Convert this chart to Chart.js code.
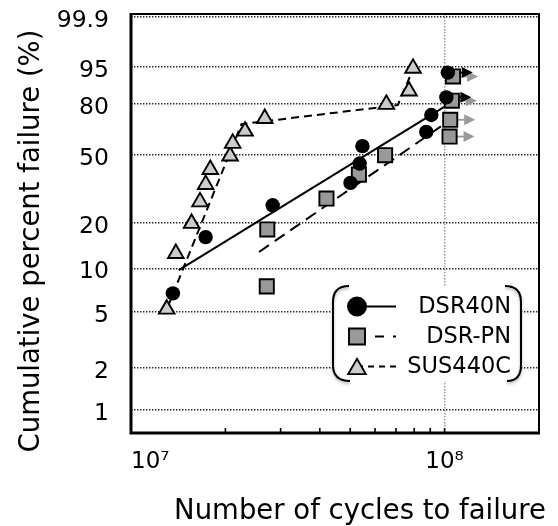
<!DOCTYPE html>
<html>
<head>
<meta charset="utf-8">
<script src="https://cdn.jsdelivr.net/npm/chart.js"></script>
<style>
  html, body { margin: 0; padding: 0; background: #fff; }
</style>
</head>
<body>
<canvas id="chart" width="558" height="526"></canvas>
<script>
// Weibull plot: cycles to failure for three bearing materials

const yTickPct = [1, 2, 5, 10, 20, 50, 80, 95, 99.9];
const yTickLabels = ["1", "2", "5", "10", "20", "50", "80", "95", "99.9"];
const xTickValues = [1e7, 1e8, 2e8];
const xTickLabels = ["10\u2077", "10\u2078", ""];
const xMinorTicks = [2e7, 3e7, 4e7, 5e7, 6e7, 7e7, 8e7, 9e7, 1e8];

const xTitle = "Number of cycles to failure";
const yTitle = "Cumulative percent failure (%)";

const dsr40nCycles = [1.36e7, 1.73e7, 2.83e7, 5.01e7, 5.36e7, 5.47e7, 8.74e7, 9.07e7, 1.013e8, 1.024e8];
const dsr40nFailure = [6.7, 16.2, 25.9, 35.3, 45.1, 55.1, 63.8, 73.9, 83.5, 93.4];
const dsr40nRunouts = [8, 9];

const dsrpnCycles = [2.71e7, 2.72e7, 4.20e7, 5.33e7, 6.46e7, 1.037e8, 1.042e8, 1.055e8, 1.064e8];
const dsrpnFailure = [7.5, 18.2, 28.5, 39.3, 49.8, 60.9, 71.1, 81.8, 92.2];
const dsrpnRunouts = [5, 6, 7, 8];

const sus440cCycles = [1.30e7, 1.39e7, 1.56e7, 1.66e7, 1.73e7, 1.79e7, 2.07e7, 2.11e7, 2.31e7, 2.67e7, 6.52e7, 7.70e7, 7.93e7];
const sus440cFailure = [5.2, 12.6, 19.9, 27.2, 34.5, 41.9, 49.3, 56.8, 64.2, 71.9, 79.9, 86.5, 94.6];

// fitted lines
const dsr40nFitCycles = [1.42e7, 1.00e8];
const dsr40nFitFailure = [9.7, 78.7];
const dsrpnFitCycles = [2.56e7, 1.03e8];
const dsrpnFitFailure = [12.9, 70.3];
const sus440cFitCycles = [1.31e7, 2.25e7, 7.09e7, 7.91e7];
const sus440cFitFailure = [5.4, 68.5, 79.5, 94.1];

const FONT = "'DejaVu Sans', sans-serif";

// weibull probability transform, p in percent
function weib(p)
{
  return Math.log(-Math.log(1 - p / 100));
}

function toPoints(xs, ps)
{
  return xs.map((x, i) => ({ x: x, y: weib(ps[i]) }));
}

const runoutArrows = {
  id: "runoutArrows",
  beforeDatasetsDraw(chart) {
    const ctx = chart.ctx;
    const sets = [[1, dsrpnRunouts, "#9a9a9a"], [0, dsr40nRunouts, "#000"]];
    for (const [di, idx, col] of sets)
    {
      const meta = chart.getDatasetMeta(di);
      for (const i of idx)
      {
        const el = meta.data[i];
        ctx.save();
        ctx.strokeStyle = col;
        ctx.fillStyle = col;
        ctx.lineWidth = 1.8;
        ctx.beginPath();
        ctx.moveTo(el.x + 5, el.y);
        ctx.lineTo(el.x + 15, el.y);
        ctx.stroke();
        ctx.beginPath();
        ctx.moveTo(el.x + 14, el.y - 5.5);
        ctx.lineTo(el.x + 25, el.y);
        ctx.lineTo(el.x + 14, el.y + 5.5);
        ctx.closePath();
        ctx.fill();
        ctx.restore();
      }
    }
  }
};

const legendBox = {
  id: "legendBox",
  afterDatasetsDraw(chart) {
    const ctx = chart.ctx;
    const a = chart.chartArea;
    const left = a.left + 202, right = a.left + 390;
    const top = a.top + 272, bottom = a.top + 367;
    const r = 16;

    ctx.save();
    ctx.fillStyle = "#fff";
    ctx.beginPath();
    ctx.moveTo(left + r, top);
    ctx.lineTo(right - r, top);
    ctx.quadraticCurveTo(right, top, right, top + r);
    ctx.lineTo(right, bottom - r);
    ctx.quadraticCurveTo(right, bottom, right - r, bottom);
    ctx.lineTo(left + r, bottom);
    ctx.quadraticCurveTo(left, bottom, left, bottom - r);
    ctx.lineTo(left, top + r);
    ctx.quadraticCurveTo(left, top, left + r, top);
    ctx.fill();

    ctx.strokeStyle = "#000";
    ctx.lineWidth = 2;
    ctx.shadowColor = "rgba(0,0,0,0.3)";
    ctx.shadowBlur = 3;
    ctx.shadowOffsetY = 2;
    ctx.beginPath();
    ctx.moveTo(left + r, top);
    ctx.quadraticCurveTo(left, top, left, top + r);
    ctx.lineTo(left, bottom - r);
    ctx.quadraticCurveTo(left, bottom, left + r + 1, bottom);
    ctx.stroke();
    ctx.beginPath();
    ctx.moveTo(right - r, top);
    ctx.quadraticCurveTo(right, top, right, top + r);
    ctx.lineTo(right, bottom - r);
    ctx.quadraticCurveTo(right, bottom, right - r + 2, bottom);
    ctx.stroke();
    ctx.restore();

    const rows = [
      { ds: 0, dash: [], radius: 10 },
      { ds: 1, dash: [9, 9], radius: 11.3 },
      { ds: 2, dash: [6, 5], radius: 10.2 }
    ];
    rows.forEach((row, k) => {
      const ds = chart.data.datasets[row.ds];
      const y = top + 20.5 + k * 30;
      const mx = left + 24;
      ctx.save();
      ctx.strokeStyle = "#000";
      ctx.lineWidth = 1.8;
      ctx.setLineDash(row.dash);
      ctx.beginPath();
      ctx.moveTo(mx, y);
      ctx.lineTo(left + 63, y);
      ctx.stroke();
      ctx.setLineDash([]);
      ctx.fillStyle = ds.backgroundColor;
      ctx.strokeStyle = ds.borderColor;
      ctx.lineWidth = ds.borderWidth;
      const my = ds.pointStyle === "triangle" ? y + 2.5 : y;
      Chart.helpers.drawPoint(ctx, {
        pointStyle: ds.pointStyle,
        radius: row.radius,
        rotation: 0,
        borderWidth: ds.borderWidth
      }, mx, my);
      ctx.fillStyle = "#000";
      ctx.font = "22.5px " + FONT;
      ctx.textAlign = "right";
      ctx.textBaseline = "middle";
      ctx.fillText(ds.label, right - 10, y + 1);
      ctx.restore();
    });
  }
};

const frameAndTitles = {
  id: "frameAndTitles",
  afterDraw(chart) {
    const ctx = chart.ctx;
    const a = chart.chartArea;
    const xs = chart.scales.x;

    ctx.save();
    ctx.strokeStyle = "#000";

    // inward minor ticks on the x axis
    ctx.lineWidth = 1.6;
    for (const v of xMinorTicks)
    {
      const px = xs.getPixelForValue(v);
      ctx.beginPath();
      ctx.moveTo(px, a.bottom);
      ctx.lineTo(px, a.bottom - 5);
      ctx.stroke();
    }

    ctx.lineWidth = 2;
    ctx.beginPath();
    ctx.moveTo(a.left, a.top);
    ctx.lineTo(a.right, a.top);
    ctx.lineTo(a.right, a.bottom);
    ctx.stroke();

    ctx.lineWidth = 3;
    ctx.beginPath();
    ctx.moveTo(a.left, a.top - 1);
    ctx.lineTo(a.left, a.bottom);
    ctx.lineTo(a.right + 1, a.bottom);
    ctx.stroke();

    ctx.fillStyle = "#000";
    ctx.font = "27.5px " + FONT;
    ctx.textAlign = "center";
    ctx.textBaseline = "alphabetic";
    ctx.fillText(xTitle, a.left + 229, a.bottom + 86);
    ctx.translate(a.left - 92.5, a.top + 227);
    ctx.rotate(-Math.PI / 2);
    ctx.fillText(yTitle, 0, 0);
    ctx.restore();
  }
};

Chart.defaults.font.family = FONT;
Chart.defaults.color = "#000";

new Chart(document.getElementById("chart"), {
  type: "scatter",
  data: {
    datasets: [
      {
        label: "DSR40N",
        data: toPoints(dsr40nCycles, dsr40nFailure),
        pointStyle: "circle",
        pointRadius: 7.2,
        pointHoverRadius: 7.2,
        backgroundColor: "#000",
        borderColor: "#000",
        borderWidth: 0,
        order: 1
      },
      {
        label: "DSR-PN",
        data: toPoints(dsrpnCycles, dsrpnFailure),
        pointStyle: "rect",
        pointRadius: 10,
        pointHoverRadius: 10,
        backgroundColor: "#999999",
        borderColor: "#000",
        borderWidth: 1.9,
        order: 1
      },
      {
        label: "SUS440C",
        data: toPoints(sus440cCycles, sus440cFailure),
        pointStyle: "triangle",
        pointRadius: 9,
        pointHoverRadius: 9,
        backgroundColor: "#cccccc",
        borderColor: "#000",
        borderWidth: 1.9,
        order: 1
      },
      {
        label: "DSR40N fit",
        data: toPoints(dsr40nFitCycles, dsr40nFitFailure),
        showLine: true,
        pointRadius: 0,
        borderColor: "#000",
        borderWidth: 2,
        order: 2
      },
      {
        label: "DSR-PN fit",
        data: toPoints(dsrpnFitCycles, dsrpnFitFailure),
        showLine: true,
        pointRadius: 0,
        borderColor: "#000",
        borderWidth: 2,
        borderDash: [12, 7],
        order: 2
      },
      {
        label: "SUS440C fit",
        data: toPoints(sus440cFitCycles, sus440cFitFailure),
        showLine: true,
        pointRadius: 0,
        borderColor: "#000",
        borderWidth: 2,
        borderDash: [8, 5],
        order: 2
      }
    ]
  },
  options: {
    responsive: false,
    animation: false,
    devicePixelRatio: 1,
    events: [],
    clip: false,
    layout: { padding: { top: 14, right: 19, left: 0, bottom: 0 } },
    plugins: {
      legend: { display: false },
      tooltip: { enabled: false }
    },
    scales: {
      x: {
        type: "logarithmic",
        min: 1e7,
        max: 2e8,
        afterBuildTicks: (scale) => { scale.ticks = xTickValues.map(v => ({ value: v })); },
        afterFit: (scale) => {
          scale.height = 93;
          scale.paddingLeft = 0;
          scale.paddingRight = 0;
        },
        ticks: {
          autoSkip: false,
          maxRotation: 0,
          align: "inner",
          padding: 15,
          font: { size: 23 },
          callback: (value, index) => xTickLabels[index]
        },
        grid: {
          drawTicks: false,
          lineWidth: 1.5,
          color: (ctx) => (ctx.tick && ctx.tick.value === 1e8) ? "#9a9a9a" : "rgba(0,0,0,0)"
        },
        border: { display: false, dash: [1.5, 1.5] }
      },
      y: {
        type: "linear",
        min: weib(0.68),
        max: weib(99.925),
        afterBuildTicks: (scale) => { scale.ticks = yTickPct.map(p => ({ value: weib(p) })); },
        afterFit: (scale) => {
          scale.width = 131;
          scale.paddingTop = 0;
          scale.paddingBottom = 0;
        },
        ticks: {
          autoSkip: false,
          padding: 22,
          labelOffset: 4,
          font: { size: 23.5 },
          callback: (value, index) => yTickLabels[index]
        },
        grid: {
          drawTicks: false,
          lineWidth: 1.4,
          color: "#222"
        },
        border: { display: false, dash: [1.4, 1.6] }
      }
    }
  },
  plugins: [runoutArrows, legendBox, frameAndTitles]
});
</script>
</body>
</html>
